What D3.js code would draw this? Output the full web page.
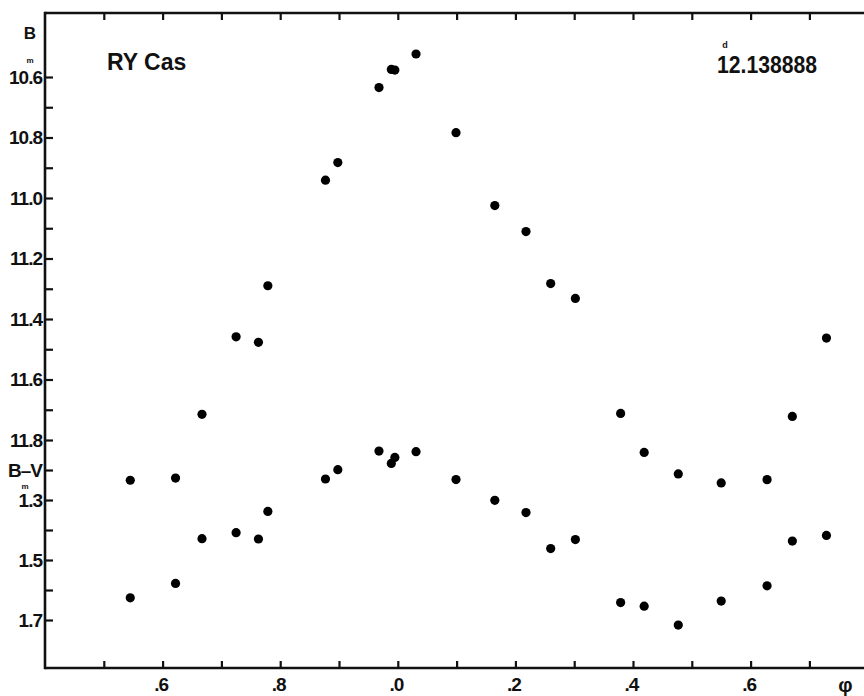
<!DOCTYPE html>
<html>
<head>
<meta charset="utf-8">
<script src="https://cdn.jsdelivr.net/npm/d3@7"></script>
<style>
  html, body { margin: 0; padding: 0; background: #fff; }
  svg { display: block; }
  .lbl { font-family: "Liberation Sans", Arial, sans-serif; font-weight: bold; fill: #111; letter-spacing: -1px; }
  .title { font-family: "Liberation Sans", Arial, sans-serif; font-weight: bold; fill: #111; }
</style>
</head>
<body>
<script>
// RY Cas light curve: phase, B magnitude, B-V colour index
const phase   = [0.545, 0.622, 0.667, 0.725, 0.763, 0.779, 0.877, 0.898, 0.968, 0.989, 0.995,
                 1.031, 1.099, 1.165, 1.218, 1.260, 1.302, 1.379, 1.419, 1.477, 1.550, 1.628, 1.671, 1.729];
const bMag    = [11.933, 11.926, 11.715, 11.459, 11.477, 11.290, 10.941, 10.883, 10.635, 10.575, 10.577,
                 10.524, 10.784, 11.025, 11.111, 11.283, 11.332, 11.712, 11.841, 11.912, 11.942, 11.931, 11.722, 11.463];
const bvColor = [1.626, 1.578, 1.429, 1.409, 1.430, 1.338, 1.230, 1.199, 1.137, 1.178, 1.158,
                 1.139, 1.232, 1.301, 1.342, 1.462, 1.432, 1.642, 1.654, 1.717, 1.637, 1.586, 1.437, 1.418];

const bTicks  = [10.6, 10.7, 10.8, 10.9, 11.0, 11.1, 11.2, 11.3, 11.4, 11.5, 11.6, 11.7, 11.8];
const bvTicks = [1.2, 1.3, 1.4, 1.5, 1.6, 1.7];
const bvTickLabels = ["B\u2013V", "1.3", "", "1.5", "", "1.7"];
const phaseTicks = [0.5, 0.6, 0.7, 0.8, 0.9, 1.0, 1.1, 1.2, 1.3, 1.4, 1.5, 1.6, 1.7];
const phaseTickLabels = ["", ".6", "", ".8", "", ".0", "", ".2", "", ".4", "", ".6", ""];

const W = 864, H = 696;
const frameLeft = 45, frameTop = 13, frameBottom = 668, frameRight = W;

const svg = d3.select("body").append("svg").attr("width", W).attr("height", H);

const x   = d3.scaleLinear().domain([0.4, 1.8]).range([45, 868.2]);
const yB  = d3.scaleLinear().domain([10.6, 11.8]).range([77, 440]);
const yBV = d3.scaleLinear().domain([1.2, 1.7]).range([470, 620]);

// frame lines
const frame = svg.append("g").attr("stroke", "#111").attr("stroke-width", 2.6).attr("fill", "none");
frame.append("line").attr("x1", frameLeft).attr("x2", frameLeft).attr("y1", frameTop - 1.3).attr("y2", frameBottom + 1.3);
frame.append("line").attr("x1", frameLeft).attr("x2", frameRight).attr("y1", frameTop).attr("y2", frameTop);
frame.append("line").attr("x1", frameLeft).attr("x2", frameRight).attr("y1", frameBottom).attr("y2", frameBottom);

function styleAxis(g, size) {
  g.select(".domain").remove();
  g.selectAll(".tick line").attr("stroke", "#111").attr("stroke-width", 2.2);
  g.selectAll(".tick text").attr("class", "lbl").style("font-size", size + "px").attr("fill", "#111");
}

// B magnitude axis
const bFmt = v => (Math.round(v * 10) % 2 === 0) ? v.toFixed(1) : "";
svg.append("g").attr("transform", `translate(${frameLeft},0)`)
  .call(d3.axisLeft(yB).tickValues(bTicks).tickFormat(bFmt).tickSize(-8).tickPadding(3))
  .call(g => styleAxis(g, 19));

// B-V axis
svg.append("g").attr("transform", `translate(${frameLeft},0)`)
  .call(d3.axisLeft(yBV).tickValues(bvTicks).tickFormat((d, i) => bvTickLabels[i]).tickSize(-8).tickPadding(3))
  .call(g => styleAxis(g, 19));

// phase axis, bottom and top
svg.append("g").attr("transform", `translate(0,${frameBottom})`)
  .call(d3.axisBottom(x).tickValues(phaseTicks).tickFormat((d, i) => phaseTickLabels[i]).tickSize(-7).tickPadding(10))
  .call(g => styleAxis(g, 19))
  .call(g => g.selectAll(".tick text").attr("dx", -2));
svg.append("g").attr("transform", `translate(0,${frameTop})`)
  .call(d3.axisTop(x).tickValues(phaseTicks).tickFormat("").tickSize(-7))
  .call(g => styleAxis(g, 19));

// axis titles and annotations
svg.append("text").attr("class", "lbl").attr("x", 30).attr("y", 39).attr("text-anchor", "middle")
  .style("font-size", "17px").style("letter-spacing", "0").text("B");
svg.append("text").attr("class", "lbl").attr("x", 30).attr("y", 63).attr("text-anchor", "middle")
  .style("font-size", "8px").style("letter-spacing", "0").text("m");
svg.append("text").attr("class", "lbl").attr("x", 25).attr("y", 489).attr("text-anchor", "middle")
  .style("font-size", "8px").style("letter-spacing", "0").text("m");
svg.append("text").attr("class", "lbl").attr("x", 845).attr("y", 692).attr("text-anchor", "middle")
  .style("font-size", "20px").text("\u03c6");

svg.append("text").attr("class", "title").attr("x", 107).attr("y", 70)
  .style("font-size", "23px").text("RY Cas");
svg.append("text").attr("class", "title").attr("x", 717).attr("y", 73)
  .attr("textLength", 100).attr("lengthAdjust", "spacingAndGlyphs")
  .style("font-size", "24px").text("12.138888");
svg.append("text").attr("class", "title").attr("x", 725).attr("y", 48).attr("text-anchor", "middle")
  .style("font-size", "9px").text("d");

// observations
const pts = phase.map((p, i) => ({ p, b: bMag[i], bv: bvColor[i] }));
svg.append("g").selectAll("circle").data(pts).join("circle")
  .attr("cx", d => x(d.p)).attr("cy", d => yB(d.b)).attr("r", 4.6).attr("fill", "#000");
svg.append("g").selectAll("circle").data(pts).join("circle")
  .attr("cx", d => x(d.p)).attr("cy", d => yBV(d.bv)).attr("r", 4.6).attr("fill", "#000");
</script>
</body>
</html>
